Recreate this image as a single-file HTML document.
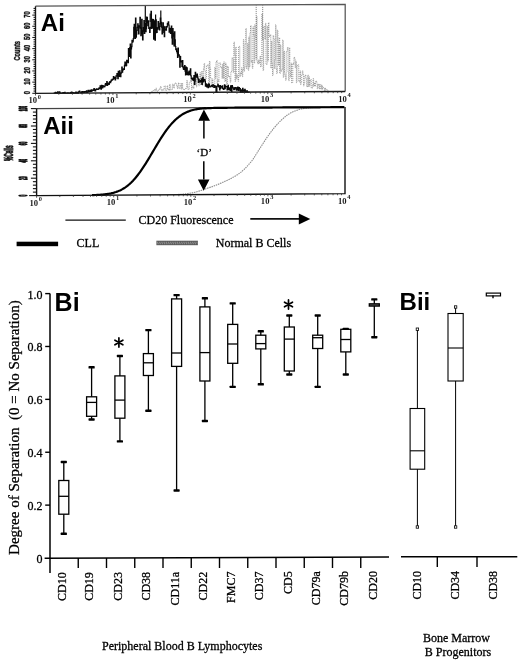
<!DOCTYPE html>
<html><head><meta charset="utf-8"><title>Figure</title>
<style>html,body{margin:0;padding:0;background:#fff;}svg{display:block;}</style>
</head><body>
<svg width="520" height="661" viewBox="0 0 520 661">
<style>.t{font-family:'Liberation Serif',serif;stroke:#000;stroke-width:0.28px;fill:#000;}</style>
<rect width="520" height="661" fill="#fff"/>
<path d="M149.85 92.63V92.63H150.45V92.29H151.04V92.19H151.64V91.47H152.23V91.94H152.83V90.56H153.42V90.04H154.02V89.71H154.62V91.03H155.21V90.78H155.81V88.14H156.4V90.28H157V91.38H157.59V90.92H158.19V89.97H158.78V89.55H159.38V89.59H159.98V87.23H160.57V86.45H161.17V90.16H161.76V90.76H162.36V90.01H162.95V89.44H163.55V90.11H164.14V85.87H164.74V85.93H165.34V90.17H165.93V90.45H166.53V90.02H167.12V85.64H167.72V89.45H168.31V88.9H168.91V90.46H169.5V84.42H170.1V85.89H170.7V90.03H171.29V89.9H171.89V89.38H172.48V84.13H173.08V84.94H173.67V88.17H174.27V84.08H174.86V84.04H175.46V82.93H176.06V83.91H176.65V85.72H177.25V88.58H177.84V84.97H178.44V82.73H179.03V88.39H179.63V88.63H180.23V85.43H180.82V83.56H181.42V89.12H182.01V83.14H182.61V88.91H183.2V89.41H183.8V89.77H184.39V89.52H184.99V88.64H185.59V88.38H186.18V88.65H186.78V80.5H187.37V87.29H187.97V89.44H188.56V89.5H189.16V82.87H189.75V82.48H190.35V80.38H190.95V80.5H191.54V89.32H192.14V86.31H192.73V86.25H193.33V88.49H193.92V77.19H194.52V77.35H195.11V84.55H195.71V78.12H196.31V86.86H196.9V78.37H197.5V75.65H198.09V75.57H198.69V85.8H199.28V82.63H199.88V72.82H200.47V84.64H201.07V75.13H201.67V71.12H202.26V85.18H202.86V81.27H203.45V68.13H204.05V63.4H204.64V70.88H205.24V79.26H205.83V78.27H206.43V66.15H207.03V65.19H207.62V64.66H208.22V67.67H208.81V83.77H209.41V61.2H210V68H210.6V78.35H211.2V85.12H211.79V84.19H212.39V78.93H212.98V85.39H213.58V84.46H214.17V83.99H214.77V67.44H215.36V78.38H215.96V62.16H216.56V60.44H217.15V83.9H217.75V79.55H218.34V81.8H218.94V62.85H219.53V63.09H220.13V63.11H220.72V67.81H221.32V67.15H221.92V78.29H222.51V63.95H223.11V78.53H223.7V61.87H224.3V77.59H224.89V81.55H225.49V62.97H226.08V66.24H226.68V84.55H227.28V66.25H227.87V66.75H228.47V76.88H229.06V75.93H229.66V78.18H230.25V82.18H230.85V72.27H231.44V71.21H232.04V57.75H232.64V58.71H233.23V72.57H233.83V42.04H234.42V54.22H235.02V81.45H235.61V47.08H236.21V78.8H236.8V74.64H237.4V76.88H238V81.18H238.59V46.95H239.19V46.37H239.78V76.62H240.38V72.66H240.97V73.95H241.57V67.69H242.17V76.61H242.76V70.25H243.36V39.5H243.95V71.37H244.55V66.77H245.14V43.58H245.74V28.46H246.33V68.5H246.93V65.14H247.53V43.43H248.12V70.35H248.72V36.85H249.31V67.08H249.91V32.45H250.5V25.59H251.1V62.35H251.69V60.34H252.29V68.32H252.89V26.82H253.48V35.46H254.08V63.14H254.67V24.78H255.27V36.03H255.86V59.28H256.46V16.5H257.05V62.33H257.65V63.81H258.25V60.03H258.84V63.66H259.44V60.63H260.03V56.08H260.63V66.92H261.22V61.47H261.82V13.99H262.41V37.25H263.01V70.52H263.61V26.39H264.2V26.58H264.8V39.18H265.39V23.31H265.99V64.42H266.58V64.51H267.18V26.32H267.77V61.05H268.37V22.66H268.97V35.33H269.56V36.7H270.16V34.58H270.75V68.11H271.35V41.21H271.94V63.72H272.54V75.53H273.14V35.5H273.73V38.38H274.33V68.7H274.92V59.95H275.52V24.74H276.11V68.61H276.71V73.55H277.3V30.14H277.9V41.77H278.5V65.36H279.09V37.77H279.69V73.49H280.28V44.92H280.88V71.25H281.47V70.81H282.07V69.26H282.66V39.97H283.26V77.45H283.86V51.17H284.45V72.98H285.05V75.61H285.64V80.27H286.24V51.72H286.83V50.14H287.43V47.25H288.02V71.99H288.62V80.66H289.22V47.8H289.81V71.41H290.41V77.12H291V63.14H291.6V82.89H292.19V82.44H292.79V63.15H293.38V64.44H293.98V57.2H294.58V58.98H295.17V67.75H295.77V61.23H296.36V82.65H296.96V65.44H297.55V64.8H298.15V64.83H298.74V80.92H299.34V81.98H299.94V70.94H300.53V84.56H301.13V81.58H301.72V74.53H302.32V70.8H302.91V74.52H303.51V85.95H304.11V82.95H304.7V75.68H305.3V74.84H305.89V78.46H306.49V85.31H307.08V87.06H307.68V74.97H308.27V86.48H308.87V76.86H309.47V86.16H310.06V80.35H310.66V79.5H311.25V88.15H311.85V88.16H312.44V85.53H313.04V78.6H313.63V86.52H314.23V82.86H314.83V86.35H315.42V81.68H316.02V81.06H316.61V82.94H317.21V88.7H317.8V84.19H318.4V85.09H318.99V88.97H319.59V84.24H320.19V84.86H320.78V89.04H321.38V84.93H321.97V89.59H322.57V86.51H323.16V87.58H323.76V88.34H324.35V90.66H324.95V88.13H325.55V90.25H326.14V89.54H326.74V89.73H327.33V90.27H327.93V91.26H328.52V91.39H329.12V91.57H329.71V91.59H330.31V91.58H330.91" stroke="#808080" stroke-width="0.75" stroke-dasharray="1.1 0.9" fill="none"/>
<path d="M256.2 40V5.5M262.7 40V5.5" stroke="#7a7a7a" stroke-width="0.9" stroke-dasharray="1.1 0.9" fill="none"/>
<path d="M53.64 93.19V93.19H54.08V93.19H54.52V93.16H54.97V92.74H55.41V92.29H55.85V92.92H56.29V93.18H56.74V93.18H57.18V92.51H57.62V91.96H58.06V92.79H58.51V93.16H58.95V93.16H59.39V91.96H59.83V92.81H60.28V93.15H60.72V92.98H61.16V93.15H61.6V93.15H62.05V93.14H62.49V93.14H62.93V92.56H63.37V92.94H63.82V93.13H64.26V92.64H64.7V92.37H65.14V93.13H65.59V93.04H66.03V93.12H66.47V92.98H66.91V93.12H67.35V92.85H67.8V92.88H68.24V93.04H68.68V93.11H69.12V93.08H69.57V93.1H70.01V93.1H70.45V92.68H70.89V93.09H71.34V92.07H71.78V92.35H72.22V93.09H72.66V92.61H73.11V93.08H73.55V92.74H73.99V92.73H74.43V93.07H74.88V92.88H75.32V92.88H75.76V92.11H76.2V93.06H76.65V92.23H77.09V93.06H77.53V92.88H77.97V93.05H78.42V91.73H78.86V92.27H79.3V91.07H79.74V92.19H80.19V92.04H80.63V92.02H81.07V92.9H81.51V92.51H81.95V91.54H82.4V92.61H82.84V92.15H83.28V92.22H83.72V91.71H84.17V92.28H84.61V92.04H85.05V91.67H85.49V91.67H85.94V92.25H86.38V90.89H86.82V92.36H87.26V92.19H87.71V92.15H88.15V90.36H88.59V91.25H89.03V91.62H89.48V91.64H89.92V90.32H90.36V91.39H90.8V91.47H91.25V89.85H91.69V91.23H92.13V90.41H92.57V90.05H93.02V90.32H93.46V89.88H93.9V88.58H94.34V90.07H94.79V90.62H95.23V91.02H95.67V89.47H96.11V89.48H96.56V88.8H97V89.34H97.44V89.23H97.88V89.33H98.32V89H98.77V88.2H99.21V88.58H99.65V87.95H100.09V85.97H100.54V87.21H100.98V89.13H101.42V85.47H101.86V86.7H102.31V87.86H102.75V85.6H103.19V86.33H103.63V86.79H104.08V86.56H104.52V86.73H104.96V85.21H105.4V83.67H105.85V85.11H106.29V83.88H106.73V81.69H107.17V85.45H107.62V83.21H108.06V83.69H108.5V84.46H108.94V84.15H109.39V82.44H109.83V81.5H110.27V82.64H110.71V81.47H111.16V80.15H111.6V80.49H112.04V79.27H112.48V79.58H112.92V79.2H113.37V76.63H113.81V78.25H114.25V78.72H114.69V77.33H115.14V79.82H115.58V78.42H116.02V75.96H116.46V75.84H116.91V73.66H117.35V76.15H117.79V78.61H118.23V71.38H118.68V72.58H119.12V76.52H119.56V70.9H120V73.22H120.45V76.74H120.89V73.11H121.33V72.74H121.77V67.19H122.22V72.14H122.66V70.11H123.1V69.39H123.54V68.83H123.99V69.39H124.43V65.43H124.87V62.03H125.31V62.27H125.76V65.82H126.2V65.5H126.64V60.43H127.08V61.86H127.53V60.37H127.97V62.73H128.41V48.55H128.85V50.75H129.29V56.37H129.74V47.57H130.18V44.14H130.62V58H131.06V48.81H131.51V46.62H131.95V40.35H132.39V42.19H132.83V41.05H133.28V38.6H133.72V27.42H134.16V24.36H134.6V37.25H135.05V38.46H135.49V18.06H135.93V37.16H136.37V34.25H136.82V30.28H137.26V27.3H137.7V23.83H138.14V27.08H138.59V33.95H139.03V25.8H139.47V27.02H139.91V17.45H140.36V28.19H140.8V35.72H141.24V33.96H141.68V19.46H142.13V30.91H142.57V39.92H143.01V31.04H143.45V27.62H143.89V20.68H144.34V33.44H144.78V23.65H145.22V22.88H145.66V31.57H146.11V28.59H146.55V17.22H146.99V17.5H147.43V22.53H147.88V25.57H148.32V20.88H148.76V28.32H149.2V28.05H149.65V32.5H150.09V27.47H150.53V27.98H150.97V11.37H151.42V28.52H151.86V19.82H152.3V19.29H152.74V27.86H153.19V19.64H153.63V39.15H154.07V25.56H154.51V20.94H154.96V40.22H155.4V32.87H155.84V19.74H156.28V27.52H156.73V32.51H157.17V28.21H157.61V29.22H158.05V21.71H158.5V23.31H158.94V27.66H159.38V29.94H159.82V26.32H160.26V18.17H160.71V24H161.15V22.37H161.59V27.15H162.03V34H162.48V30.71H162.92V22.87H163.36V26.27H163.8V32.35H164.25V36.69H164.69V26.84H165.13V29.66H165.57V29.94H166.02V30.03H166.46V26.7H166.9V26.89H167.34V23.3H167.79V23.8H168.23V21.8H168.67V25.21H169.11V32.2H169.56V30.99H170V28.29H170.44V33.39H170.88V28.99H171.33V26.17H171.77V37.93H172.21V44.12H172.65V28.5H173.1V36.05H173.54V33.48H173.98V45.79H174.42V31.89H174.86V39.73H175.31V46.52H175.75V49.54H176.19V48.78H176.63V51.28H177.08V52.85H177.52V57.5H177.96V48.13H178.4V54.67H178.85V55.15H179.29V56.11H179.73V67.13H180.17V56.49H180.62V60.94H181.06V61.81H181.5V61.45H181.94V66.37H182.39V60.6H182.83V67.19H183.27V68.82H183.71V69.51H184.16V66.8H184.6V65.68H185.04V71.08H185.48V74.84H185.93V67.08H186.37V74.52H186.81V67.84H187.25V72.27H187.7V74.72H188.14V74.94H188.58V72H189.02V71.12H189.47V74.72H189.91V71.71H190.35V68.75H190.79V75.73H191.23V78.72H191.68V78.72H192.12V79.93H192.56V78.09H193V78.57H193.45V80.46H193.89V75.62H194.33V84.36H194.77V81.07H195.22V72.35H195.66V75.2H196.1V76.79H196.54V77.18H196.99V73.99H197.43V77.44H197.87V78.85H198.31V82.41H198.76V79.71H199.2V81.6H199.64V81.76H200.08V82.01H200.53V80.6H200.97V81.53H201.41V78.88H201.85V84.39H202.3V81.86H202.74V77.32H203.18V81.84H203.62V79.39H204.07V79.78H204.51V79.61H204.95V81.15H205.39V86.12H205.83V83.82H206.28V84.26H206.72V87H207.16V84.79H207.6V86.67H208.05V87.73H208.49V83.88H208.93V84.6H209.37V86.13H209.82V86.84H210.26V86.14H210.7V86H211.14V86.18H211.59V85.6H212.03V86.53H212.47V85.01H212.91V84.87H213.36V85.34H213.8V87.49H214.24V87.51H214.68V85.54H215.13V86.88H215.57V86.66H216.01V91.51H216.45V91.98H216.9V86.17H217.34V86.26H217.78V84.3H218.22V85.66H218.67V86.69H219.11V87.15H219.55V89.95H219.99V85.63H220.44V88.5H220.88V86.48H221.32V87.1H221.76V87.02H222.2V85.92H222.65V88.56H223.09V88.42H223.53V89.34H223.97V88.5H224.42V84.77H224.86V88.57H225.3V85.77H225.74V86.49H226.19V86.72H226.63V86.64H227.07V90.01H227.51V87.53H227.96V85.38H228.4V89.58H228.84V88.46H229.28V89.67H229.73V87.92H230.17V90.48H230.61V85.74H231.05V89.34H231.5V91.46H231.94V85.6H232.38V87.11H232.82V87.96H233.27V87.99H233.71V89.6H234.15V89.42H234.59V87.82H235.04V87.53H235.48V87.57H235.92V88.87H236.36V90.1H236.8V89.68H237.25V87.51H237.69V87.01H238.13V90.12H238.57V90.42H239.02V87.56H239.46V88.53H239.9V88.66H240.34V92.11H240.79V90.63H241.23V90.96H241.67V89.88H242.11V92.1H242.56V88.44H243V90.18H243.44V90.14H243.88V92.09H244.33V91.22H244.77V89.27H245.21V92.08H245.65V91.2H246.1V90.75H246.54V92.07H246.98V90.83H247.42V92.07H247.87V92.06H248.31V92.06H248.75V92.06H249.19V92.06H249.64" stroke="#0a0a0a" stroke-width="1.2" fill="none" stroke-linejoin="miter"/>
<path d="M145.3 22V5.6M160.8 24V10.4M150.2 22V13.5M155.6 22V14.5" stroke="#0a0a0a" stroke-width="1.2"/>
<path d="M35.5 6.2L345.2 4.4L345.2 91.5" stroke="#555" stroke-width="1.25" fill="none"/>
<path d="M35.5 6.2L35.5 93.3L345.2 91.5" stroke="#1a1a1a" stroke-width="1.35" fill="none"/>
<path d="M32.3 93.3H35.5" stroke="#111" stroke-width="1.0"/>
<path d="M33.5 91.07H35.5" stroke="#111" stroke-width="1.0"/>
<path d="M33.5 88.83H35.5" stroke="#111" stroke-width="1.0"/>
<path d="M33.5 86.6H35.5" stroke="#111" stroke-width="1.0"/>
<path d="M33.5 84.36H35.5" stroke="#111" stroke-width="1.0"/>
<path d="M32.3 82.13H35.5" stroke="#111" stroke-width="1.0"/>
<path d="M33.5 79.9H35.5" stroke="#111" stroke-width="1.0"/>
<path d="M33.5 77.66H35.5" stroke="#111" stroke-width="1.0"/>
<path d="M33.5 75.43H35.5" stroke="#111" stroke-width="1.0"/>
<path d="M33.5 73.19H35.5" stroke="#111" stroke-width="1.0"/>
<path d="M32.3 70.96H35.5" stroke="#111" stroke-width="1.0"/>
<path d="M33.5 68.73H35.5" stroke="#111" stroke-width="1.0"/>
<path d="M33.5 66.49H35.5" stroke="#111" stroke-width="1.0"/>
<path d="M33.5 64.26H35.5" stroke="#111" stroke-width="1.0"/>
<path d="M33.5 62.02H35.5" stroke="#111" stroke-width="1.0"/>
<path d="M32.3 59.79H35.5" stroke="#111" stroke-width="1.0"/>
<path d="M33.5 57.56H35.5" stroke="#111" stroke-width="1.0"/>
<path d="M33.5 55.32H35.5" stroke="#111" stroke-width="1.0"/>
<path d="M33.5 53.09H35.5" stroke="#111" stroke-width="1.0"/>
<path d="M33.5 50.85H35.5" stroke="#111" stroke-width="1.0"/>
<path d="M32.3 48.62H35.5" stroke="#111" stroke-width="1.0"/>
<path d="M33.5 46.39H35.5" stroke="#111" stroke-width="1.0"/>
<path d="M33.5 44.15H35.5" stroke="#111" stroke-width="1.0"/>
<path d="M33.5 41.92H35.5" stroke="#111" stroke-width="1.0"/>
<path d="M33.5 39.68H35.5" stroke="#111" stroke-width="1.0"/>
<path d="M32.3 37.45H35.5" stroke="#111" stroke-width="1.0"/>
<path d="M33.5 35.22H35.5" stroke="#111" stroke-width="1.0"/>
<path d="M33.5 32.98H35.5" stroke="#111" stroke-width="1.0"/>
<path d="M33.5 30.75H35.5" stroke="#111" stroke-width="1.0"/>
<path d="M33.5 28.51H35.5" stroke="#111" stroke-width="1.0"/>
<path d="M32.3 26.28H35.5" stroke="#111" stroke-width="1.0"/>
<path d="M33.5 24.05H35.5" stroke="#111" stroke-width="1.0"/>
<path d="M33.5 21.81H35.5" stroke="#111" stroke-width="1.0"/>
<path d="M33.5 19.58H35.5" stroke="#111" stroke-width="1.0"/>
<path d="M33.5 17.34H35.5" stroke="#111" stroke-width="1.0"/>
<path d="M32.3 15.11H35.5" stroke="#111" stroke-width="1.0"/>
<path d="M33.5 12.88H35.5" stroke="#111" stroke-width="1.0"/>
<path d="M33.5 10.64H35.5" stroke="#111" stroke-width="1.0"/>
<path d="M33.5 8.41H35.5" stroke="#111" stroke-width="1.0"/>
<text transform="translate(29.7 92.7) rotate(-90) scale(0.62 1)" text-anchor="middle" font-family="'Liberation Sans', sans-serif" font-weight="bold" font-size="9.3" fill="#111" stroke="#111" stroke-width="0.4">0</text>
<text transform="translate(29.7 81.53) rotate(-90) scale(0.62 1)" text-anchor="middle" font-family="'Liberation Sans', sans-serif" font-weight="bold" font-size="9.3" fill="#111" stroke="#111" stroke-width="0.4">10</text>
<text transform="translate(29.7 70.36) rotate(-90) scale(0.62 1)" text-anchor="middle" font-family="'Liberation Sans', sans-serif" font-weight="bold" font-size="9.3" fill="#111" stroke="#111" stroke-width="0.4">20</text>
<text transform="translate(29.7 59.19) rotate(-90) scale(0.62 1)" text-anchor="middle" font-family="'Liberation Sans', sans-serif" font-weight="bold" font-size="9.3" fill="#111" stroke="#111" stroke-width="0.4">30</text>
<text transform="translate(29.7 48.02) rotate(-90) scale(0.62 1)" text-anchor="middle" font-family="'Liberation Sans', sans-serif" font-weight="bold" font-size="9.3" fill="#111" stroke="#111" stroke-width="0.4">40</text>
<text transform="translate(29.7 36.85) rotate(-90) scale(0.62 1)" text-anchor="middle" font-family="'Liberation Sans', sans-serif" font-weight="bold" font-size="9.3" fill="#111" stroke="#111" stroke-width="0.4">50</text>
<text transform="translate(29.7 25.68) rotate(-90) scale(0.62 1)" text-anchor="middle" font-family="'Liberation Sans', sans-serif" font-weight="bold" font-size="9.3" fill="#111" stroke="#111" stroke-width="0.4">60</text>
<text transform="translate(29.7 14.51) rotate(-90) scale(0.62 1)" text-anchor="middle" font-family="'Liberation Sans', sans-serif" font-weight="bold" font-size="9.3" fill="#111" stroke="#111" stroke-width="0.4">70</text>
<text transform="translate(20 50.8) rotate(-90) scale(0.62 1)" text-anchor="middle" font-family="'Liberation Sans', sans-serif" font-weight="bold" font-size="9.2" fill="#111" stroke="#111" stroke-width="0.4">Counts</text>
<text transform="translate(34.7 103.3) scale(1 0.87)" text-anchor="middle" font-family="'Liberation Serif', serif" font-weight="bold" font-size="8.6" fill="#1a1a1a">10<tspan dx="0.7" dy="-5.3" font-size="6.4">0</tspan></text>
<text transform="translate(112.12 102.85) scale(1 0.87)" text-anchor="middle" font-family="'Liberation Serif', serif" font-weight="bold" font-size="8.6" fill="#1a1a1a">10<tspan dx="0.7" dy="-5.3" font-size="6.4">1</tspan></text>
<text transform="translate(189.55 102.4) scale(1 0.87)" text-anchor="middle" font-family="'Liberation Serif', serif" font-weight="bold" font-size="8.6" fill="#1a1a1a">10<tspan dx="0.7" dy="-5.3" font-size="6.4">2</tspan></text>
<text transform="translate(266.97 101.95) scale(1 0.87)" text-anchor="middle" font-family="'Liberation Serif', serif" font-weight="bold" font-size="8.6" fill="#1a1a1a">10<tspan dx="0.7" dy="-5.3" font-size="6.4">3</tspan></text>
<text transform="translate(344.4 101.5) scale(1 0.87)" text-anchor="middle" font-family="'Liberation Serif', serif" font-weight="bold" font-size="8.6" fill="#1a1a1a">10<tspan dx="0.7" dy="-5.3" font-size="6.4">4</tspan></text>
<path d="M35.5 93.3v2.2" stroke="#333" stroke-width="0.8"/>
<path d="M58.81 93.16v1.6" stroke="#333" stroke-width="0.8"/>
<path d="M72.44 93.09v1.6" stroke="#333" stroke-width="0.8"/>
<path d="M82.11 93.03v1.6" stroke="#333" stroke-width="0.8"/>
<path d="M89.62 92.99v1.6" stroke="#333" stroke-width="0.8"/>
<path d="M95.75 92.95v1.6" stroke="#333" stroke-width="0.8"/>
<path d="M100.93 92.92v1.6" stroke="#333" stroke-width="0.8"/>
<path d="M105.42 92.89v1.6" stroke="#333" stroke-width="0.8"/>
<path d="M109.38 92.87v1.6" stroke="#333" stroke-width="0.8"/>
<path d="M112.92 92.85v2.2" stroke="#333" stroke-width="0.8"/>
<path d="M136.23 92.71v1.6" stroke="#333" stroke-width="0.8"/>
<path d="M149.87 92.64v1.6" stroke="#333" stroke-width="0.8"/>
<path d="M159.54 92.58v1.6" stroke="#333" stroke-width="0.8"/>
<path d="M167.04 92.54v1.6" stroke="#333" stroke-width="0.8"/>
<path d="M173.17 92.5v1.6" stroke="#333" stroke-width="0.8"/>
<path d="M178.36 92.47v1.6" stroke="#333" stroke-width="0.8"/>
<path d="M182.85 92.44v1.6" stroke="#333" stroke-width="0.8"/>
<path d="M186.81 92.42v1.6" stroke="#333" stroke-width="0.8"/>
<path d="M190.35 92.4v2.2" stroke="#333" stroke-width="0.8"/>
<path d="M213.66 92.26v1.6" stroke="#333" stroke-width="0.8"/>
<path d="M227.29 92.19v1.6" stroke="#333" stroke-width="0.8"/>
<path d="M236.96 92.13v1.6" stroke="#333" stroke-width="0.8"/>
<path d="M244.47 92.09v1.6" stroke="#333" stroke-width="0.8"/>
<path d="M250.6 92.05v1.6" stroke="#333" stroke-width="0.8"/>
<path d="M255.78 92.02v1.6" stroke="#333" stroke-width="0.8"/>
<path d="M260.27 91.99v1.6" stroke="#333" stroke-width="0.8"/>
<path d="M264.23 91.97v1.6" stroke="#333" stroke-width="0.8"/>
<path d="M267.77 91.95v2.2" stroke="#333" stroke-width="0.8"/>
<path d="M291.08 91.81v1.6" stroke="#333" stroke-width="0.8"/>
<path d="M304.72 91.74v1.6" stroke="#333" stroke-width="0.8"/>
<path d="M314.39 91.68v1.6" stroke="#333" stroke-width="0.8"/>
<path d="M321.89 91.64v1.6" stroke="#333" stroke-width="0.8"/>
<path d="M328.02 91.6v1.6" stroke="#333" stroke-width="0.8"/>
<path d="M333.21 91.57v1.6" stroke="#333" stroke-width="0.8"/>
<path d="M337.7 91.54v1.6" stroke="#333" stroke-width="0.8"/>
<path d="M341.66 91.52v1.6" stroke="#333" stroke-width="0.8"/>
<text x="40.8" y="31" font-family="'Liberation Sans', sans-serif" font-weight="bold" font-size="24" fill="#000">Ai</text>
<path d="M36.6 108.6L345.0 107.0" stroke="#444" stroke-width="1.2" fill="none"/>
<path d="M178 194.44 179 194.38 180 194.32 181 194.26 182 194.18 183 194.09 184 193.99 185 193.88 186 193.75 187 193.62 188 193.48 189 193.34 190 193.18 191 193.02 192 192.86 193 192.67 194 192.46 195 192.23 196 191.98 197 191.7 198 191.41 199 191.11 200 190.79 201 190.46 202 190.13 203 189.79 204 189.44 205 189.1 206 188.76 207 188.42 208 188.08 209 187.74 210 187.39 211 187.04 212 186.68 213 186.32 214 185.94 215 185.57 216 185.18 217 184.78 218 184.38 219 183.97 220 183.55 221 183.13 222 182.69 223 182.25 224 181.79 225 181.34 226 180.88 227 180.41 228 179.93 229 179.44 230 178.94 231 178.43 232 177.9 233 177.35 234 176.79 235 176.2 236 175.59 237 174.96 238 174.3 239 173.61 240 172.89 241 172.11 242 171.28 243 170.4 244 169.48 245 168.51 246 167.5 247 166.44 248 165.36 249 164.23 250 163.07 251 161.88 252 160.59 253 159.2 254 157.71 255 156.16 256 154.56 257 152.94 258 151.33 259 149.74 260 148.19 261 146.67 262 145.11 263 143.55 264 141.98 265 140.42 266 138.89 267 137.39 268 135.94 269 134.54 270 133.19 271 131.86 272 130.55 273 129.27 274 128.01 275 126.8 276 125.63 277 124.51 278 123.46 279 122.45 280 121.46 281 120.48 282 119.52 283 118.59 284 117.69 285 116.83 286 116.01 287 115.25 288 114.55 289 113.91 290 113.35 291 112.84 292 112.34 293 111.86 294 111.41 295 110.98 296 110.58 297 110.21 298 109.87 299 109.56 300 109.29 301 109.06 302 108.86 303 108.69 304 108.52 305 108.36 306 108.21 307 108.08 308 107.96 309 107.85 310 107.75 311 107.67 312 107.6 313 107.55 314 107.49 315 107.44 316 107.38 317 107.33 318 107.29 319 107.25 320 107.21 321 107.18 322 107.15 323 107.13 324 107.11 325 107.1" stroke="#8c8c8c" stroke-width="1.1" stroke-dasharray="1.5 0.8" fill="none"/>
<path d="M92 195.11 93 195.09 94 195.05 95 195.02 96 194.98 97 194.93 98 194.88 99 194.83 100 194.77 101 194.7 102 194.62 103 194.53 104 194.43 105 194.32 106 194.2 107 194.06 108 193.91 109 193.75 110 193.56 111 193.36 112 193.13 113 192.89 114 192.62 115 192.32 116 192 117 191.64 118 191.26 119 190.84 120 190.39 121 189.9 122 189.38 123 188.81 124 188.2 125 187.56 126 186.86 127 186.12 128 185.34 129 184.5 130 183.62 131 182.69 132 181.7 133 180.67 134 179.59 135 178.46 136 177.28 137 176.05 138 174.77 139 173.45 140 172.08 141 170.67 142 169.22 143 167.74 144 166.21 145 164.65 146 163.07 147 161.45 148 159.82 149 158.16 150 156.49 151 154.81 152 153.12 153 151.42 154 149.73 155 148.03 156 146.35 157 144.68 158 143.02 159 141.39 160 139.78 161 138.19 162 136.63 163 135.11 164 133.62 165 132.17 166 130.76 167 129.4 168 128.08 169 126.8 170 125.58 171 124.4 172 123.27 173 122.19 174 121.16 175 120.18 176 119.25 177 118.36 178 117.53 179 116.75 180 116.01 181 115.32 182 114.67 183 114.06 184 113.5 185 112.97 186 112.49 187 112.04 188 111.62 189 111.24 190 110.89 191 110.57 192 110.27 193 110 194 109.76 195 109.54 196 109.33 197 109.15 198 108.98 199 108.84 200 108.7 201 108.58 202 108.47 203 108.38 204 108.29 205 108.21 206 108.29 207 108.23 208 108.18 209 108.13 210 108.09 211 108.05 212 108.01 213 107.98 214 107.96 215 107.93 216 107.91 217 107.89 218 107.87 219 107.86 220 107.85 221 107.83 222 107.82 223 107.81 224 107.8 225 107.79 226 107.78 227 107.78 228 107.77 229 107.76 230 107.75 231 107.75 232 107.74 233 107.74 234 107.73 235 107.72 236 107.72 237 107.71 238 107.71 239 107.7 240 107.7 241 107.69 242 107.68 243 107.68 244 107.67 245 107.67 246 107.66 247 107.66 248 107.65 249 107.65 250 107.64 251 107.64 252 107.63 253 107.63 254 107.62 255 107.62 256 107.61 257 107.61 258 107.6 259 107.6 260 107.59 261 107.59 262 107.58 263 107.58 264 107.57 265 107.57 266 107.56 267 107.55 268 107.55 269 107.54 270 107.54 271 107.53 272 107.53 273 107.52 274 107.52 275 107.51 276 107.51 277 107.5 278 107.5 279 107.49 280 107.49 281 107.48 282 107.48 283 107.47 284 107.47 285 107.46 286 107.46 287 107.45 288 107.45 289 107.44 290 107.44 291 107.43 292 107.42 293 107.42 294 107.41 295 107.41 296 107.4 297 107.4 298 107.39 299 107.39 300 107.38 301 107.38 302 107.37 303 107.37 304 107.36 305 107.36 306 107.35 307 107.35 308 107.34 309 107.34 310 107.33 311 107.33 312 107.32 313 107.32 314 107.31 315 107.31 316 107.3 317 107.3 318 107.29 319 107.28 320 107.28 321 107.27 322 107.27 323 107.26 324 107.26 325 107.25 326 107.25 327 107.24 328 107.24 329 107.23 330 107.23 331 107.22 332 107.22 333 107.21 334 107.21 335 107.2 336 107.2 337 107.19 338 107.19 339 107.18 340 107.18 341 107.17 342 107.17 343 107.16 344 107.16" stroke="#000" stroke-width="2.2" fill="none" stroke-linejoin="round"/>
<path d="M345.0 107.0L345.0 193.6L36.6 195.6L36.6 108.6" stroke="#111" stroke-width="1.4" fill="none"/>
<path d="M29.1 195.6H36.6" stroke="#111" stroke-width="1.1"/>
<path d="M32.9 192.12H36.6" stroke="#111" stroke-width="1.1"/>
<path d="M32.9 188.64H36.6" stroke="#111" stroke-width="1.1"/>
<path d="M32.9 185.16H36.6" stroke="#111" stroke-width="1.1"/>
<path d="M32.9 181.68H36.6" stroke="#111" stroke-width="1.1"/>
<path d="M30.9 178.2H36.6" stroke="#111" stroke-width="1.1"/>
<path d="M32.9 174.72H36.6" stroke="#111" stroke-width="1.1"/>
<path d="M32.9 171.24H36.6" stroke="#111" stroke-width="1.1"/>
<path d="M32.9 167.76H36.6" stroke="#111" stroke-width="1.1"/>
<path d="M32.9 164.28H36.6" stroke="#111" stroke-width="1.1"/>
<path d="M30.9 160.8H36.6" stroke="#111" stroke-width="1.1"/>
<path d="M32.9 157.32H36.6" stroke="#111" stroke-width="1.1"/>
<path d="M32.9 153.84H36.6" stroke="#111" stroke-width="1.1"/>
<path d="M32.9 150.36H36.6" stroke="#111" stroke-width="1.1"/>
<path d="M32.9 146.88H36.6" stroke="#111" stroke-width="1.1"/>
<path d="M30.9 143.4H36.6" stroke="#111" stroke-width="1.1"/>
<path d="M32.9 139.92H36.6" stroke="#111" stroke-width="1.1"/>
<path d="M32.9 136.44H36.6" stroke="#111" stroke-width="1.1"/>
<path d="M32.9 132.96H36.6" stroke="#111" stroke-width="1.1"/>
<path d="M32.9 129.48H36.6" stroke="#111" stroke-width="1.1"/>
<path d="M30.9 126H36.6" stroke="#111" stroke-width="1.1"/>
<path d="M32.9 122.52H36.6" stroke="#111" stroke-width="1.1"/>
<path d="M32.9 119.04H36.6" stroke="#111" stroke-width="1.1"/>
<path d="M32.9 115.56H36.6" stroke="#111" stroke-width="1.1"/>
<path d="M32.9 112.08H36.6" stroke="#111" stroke-width="1.1"/>
<path d="M30.9 108.6H36.6" stroke="#111" stroke-width="1.1"/>
<text transform="translate(26.9 195.6) rotate(-90) scale(0.28 1)" text-anchor="middle" font-family="'Liberation Sans', sans-serif" font-weight="bold" font-size="11.5" fill="#111" stroke="#111" stroke-width="1.4">0</text>
<text transform="translate(26.9 178.2) rotate(-90) scale(0.28 1)" text-anchor="middle" font-family="'Liberation Sans', sans-serif" font-weight="bold" font-size="11.5" fill="#111" stroke="#111" stroke-width="1.4">20</text>
<text transform="translate(26.9 160.8) rotate(-90) scale(0.28 1)" text-anchor="middle" font-family="'Liberation Sans', sans-serif" font-weight="bold" font-size="11.5" fill="#111" stroke="#111" stroke-width="1.4">40</text>
<text transform="translate(26.9 143.4) rotate(-90) scale(0.28 1)" text-anchor="middle" font-family="'Liberation Sans', sans-serif" font-weight="bold" font-size="11.5" fill="#111" stroke="#111" stroke-width="1.4">60</text>
<text transform="translate(26.9 126) rotate(-90) scale(0.28 1)" text-anchor="middle" font-family="'Liberation Sans', sans-serif" font-weight="bold" font-size="11.5" fill="#111" stroke="#111" stroke-width="1.4">80</text>
<text transform="translate(26.9 108.6) rotate(-90) scale(0.28 1)" text-anchor="middle" font-family="'Liberation Sans', sans-serif" font-weight="bold" font-size="11.5" fill="#111" stroke="#111" stroke-width="1.4">100</text>
<text transform="translate(13.4 153.2) rotate(-90) scale(0.38 1)" text-anchor="middle" font-family="'Liberation Sans', sans-serif" font-weight="bold" font-size="12.5" fill="#111" stroke="#111" stroke-width="0.9">%Cells</text>
<text transform="translate(35.8 205.5) scale(1 0.87)" text-anchor="middle" font-family="'Liberation Serif', serif" font-weight="bold" font-size="8.6" fill="#1a1a1a">10<tspan dx="0.7" dy="-5.3" font-size="6.4">0</tspan></text>
<text transform="translate(112.9 205) scale(1 0.87)" text-anchor="middle" font-family="'Liberation Serif', serif" font-weight="bold" font-size="8.6" fill="#1a1a1a">10<tspan dx="0.7" dy="-5.3" font-size="6.4">1</tspan></text>
<text transform="translate(190 204.5) scale(1 0.87)" text-anchor="middle" font-family="'Liberation Serif', serif" font-weight="bold" font-size="8.6" fill="#1a1a1a">10<tspan dx="0.7" dy="-5.3" font-size="6.4">2</tspan></text>
<text transform="translate(267.1 204) scale(1 0.87)" text-anchor="middle" font-family="'Liberation Serif', serif" font-weight="bold" font-size="8.6" fill="#1a1a1a">10<tspan dx="0.7" dy="-5.3" font-size="6.4">3</tspan></text>
<text transform="translate(344.2 203.5) scale(1 0.87)" text-anchor="middle" font-family="'Liberation Serif', serif" font-weight="bold" font-size="8.6" fill="#1a1a1a">10<tspan dx="0.7" dy="-5.3" font-size="6.4">4</tspan></text>
<path d="M36.6 195.6v2.2" stroke="#333" stroke-width="0.8"/>
<path d="M59.81 195.45v1.6" stroke="#333" stroke-width="0.8"/>
<path d="M73.39 195.36v1.6" stroke="#333" stroke-width="0.8"/>
<path d="M83.02 195.3v1.6" stroke="#333" stroke-width="0.8"/>
<path d="M90.49 195.25v1.6" stroke="#333" stroke-width="0.8"/>
<path d="M96.6 195.21v1.6" stroke="#333" stroke-width="0.8"/>
<path d="M101.76 195.18v1.6" stroke="#333" stroke-width="0.8"/>
<path d="M106.23 195.15v1.6" stroke="#333" stroke-width="0.8"/>
<path d="M110.17 195.12v1.6" stroke="#333" stroke-width="0.8"/>
<path d="M113.7 195.1v2.2" stroke="#333" stroke-width="0.8"/>
<path d="M136.91 194.95v1.6" stroke="#333" stroke-width="0.8"/>
<path d="M150.49 194.86v1.6" stroke="#333" stroke-width="0.8"/>
<path d="M160.12 194.8v1.6" stroke="#333" stroke-width="0.8"/>
<path d="M167.59 194.75v1.6" stroke="#333" stroke-width="0.8"/>
<path d="M173.7 194.71v1.6" stroke="#333" stroke-width="0.8"/>
<path d="M178.86 194.68v1.6" stroke="#333" stroke-width="0.8"/>
<path d="M183.33 194.65v1.6" stroke="#333" stroke-width="0.8"/>
<path d="M187.27 194.62v1.6" stroke="#333" stroke-width="0.8"/>
<path d="M190.8 194.6v2.2" stroke="#333" stroke-width="0.8"/>
<path d="M214.01 194.45v1.6" stroke="#333" stroke-width="0.8"/>
<path d="M227.59 194.36v1.6" stroke="#333" stroke-width="0.8"/>
<path d="M237.22 194.3v1.6" stroke="#333" stroke-width="0.8"/>
<path d="M244.69 194.25v1.6" stroke="#333" stroke-width="0.8"/>
<path d="M250.8 194.21v1.6" stroke="#333" stroke-width="0.8"/>
<path d="M255.96 194.18v1.6" stroke="#333" stroke-width="0.8"/>
<path d="M260.43 194.15v1.6" stroke="#333" stroke-width="0.8"/>
<path d="M264.37 194.12v1.6" stroke="#333" stroke-width="0.8"/>
<path d="M267.9 194.1v2.2" stroke="#333" stroke-width="0.8"/>
<path d="M291.11 193.95v1.6" stroke="#333" stroke-width="0.8"/>
<path d="M304.69 193.86v1.6" stroke="#333" stroke-width="0.8"/>
<path d="M314.32 193.8v1.6" stroke="#333" stroke-width="0.8"/>
<path d="M321.79 193.75v1.6" stroke="#333" stroke-width="0.8"/>
<path d="M327.9 193.71v1.6" stroke="#333" stroke-width="0.8"/>
<path d="M333.06 193.68v1.6" stroke="#333" stroke-width="0.8"/>
<path d="M337.53 193.65v1.6" stroke="#333" stroke-width="0.8"/>
<path d="M341.47 193.62v1.6" stroke="#333" stroke-width="0.8"/>
<text x="43.2" y="133.7" font-family="'Liberation Sans', sans-serif" font-weight="bold" font-size="24" fill="#000">Aii</text>
<path d="M203.9 120.5V138.6M203.8 161.3V179.6" stroke="#000" stroke-width="1.5"/>
<path d="M203.9 109.4L210 120.8L198.3 120.8Z M203.7 190.8L209.5 179.4L197.9 179.4Z" fill="#000"/>
<text x="204.2" y="156.3" text-anchor="middle" class="t" font-size="11">‘D’</text>
<path d="M65.4 220.1H125.8" stroke="#111" stroke-width="1.4"/>
<path d="M250.3 218.9H300" stroke="#111" stroke-width="1.6"/>
<path d="M310.3 218.9L298.8 213.5L298.8 224.4Z" fill="#000"/>
<text x="138.5" y="224" class="t" font-size="12">CD20 Fluorescence</text>
<rect x="16.6" y="241.7" width="41.5" height="4.5" fill="#000"/>
<text x="76.6" y="247.4" class="t" font-size="12">CLL</text>
<rect x="156.4" y="240.7" width="41.5" height="4.5" fill="#5a5a5a"/>
<path d="M156.9 242.3H197.4M157.4 243.7H197.4" stroke="#b0b0b0" stroke-width="0.7" stroke-dasharray="1.3 0.9"/>
<text x="215.8" y="246.5" class="t" font-size="12">Normal B Cells</text>
<path d="M50 293.6V573" stroke="#000" stroke-width="1.5"/>
<path d="M44.6 558.2L389 557" stroke="#000" stroke-width="1.5"/>
<path d="M45.2 505.12H50" stroke="#000" stroke-width="1.4"/>
<path d="M45.2 452.24H50" stroke="#000" stroke-width="1.4"/>
<path d="M45.2 399.36H50" stroke="#000" stroke-width="1.4"/>
<path d="M45.2 346.48H50" stroke="#000" stroke-width="1.4"/>
<path d="M45.2 293.6H50" stroke="#000" stroke-width="1.4"/>
<path d="M78.25 558.08V568" stroke="#000" stroke-width="1.4"/>
<path d="M106.5 557.98V568" stroke="#000" stroke-width="1.4"/>
<path d="M134.75 557.89V568" stroke="#000" stroke-width="1.4"/>
<path d="M163 557.79V568" stroke="#000" stroke-width="1.4"/>
<path d="M191.25 557.69V568" stroke="#000" stroke-width="1.4"/>
<path d="M219.5 557.59V568" stroke="#000" stroke-width="1.4"/>
<path d="M247.75 557.49V568" stroke="#000" stroke-width="1.4"/>
<path d="M276 557.39V568" stroke="#000" stroke-width="1.4"/>
<path d="M304.25 557.3V568" stroke="#000" stroke-width="1.4"/>
<path d="M332.5 557.2V568" stroke="#000" stroke-width="1.4"/>
<path d="M360.75 557.1V568" stroke="#000" stroke-width="1.4"/>
<text x="42.6" y="298.5" text-anchor="end" class="t" font-size="12">1.0</text>
<text x="42.6" y="351.38" text-anchor="end" class="t" font-size="12">0.8</text>
<text x="42.6" y="404.26" text-anchor="end" class="t" font-size="12">0.6</text>
<text x="42.6" y="457.14" text-anchor="end" class="t" font-size="12">0.4</text>
<text x="42.6" y="510.02" text-anchor="end" class="t" font-size="12">0.2</text>
<text x="42.6" y="562.9" text-anchor="end" class="t" font-size="12">0</text>
<text transform="translate(19.4 427.6) rotate(-90)" text-anchor="middle" class="t" font-size="15">Degree of Separation&#160; (0 = No Separation)</text>
<text x="54.6" y="310.9" font-family="'Liberation Sans', sans-serif" font-weight="bold" font-size="25" fill="#000">Bi</text>
<text x="399.6" y="309.5" font-family="'Liberation Sans', sans-serif" font-weight="bold" font-size="24" fill="#000">Bii</text>
<path d="M401 556.8H517.3" stroke="#000" stroke-width="1.4"/>
<path d="M437.3 556.8V567M477 556.8V567" stroke="#000" stroke-width="1.4"/>
<text transform="translate(65.6 572.3) rotate(-90)" text-anchor="end" class="t" font-size="12">CD10</text>
<text transform="translate(93.47 572.18) rotate(-90)" text-anchor="end" class="t" font-size="12">CD19</text>
<text transform="translate(121.84 572.07) rotate(-90)" text-anchor="end" class="t" font-size="12">CD23</text>
<text transform="translate(150.42 571.95) rotate(-90)" text-anchor="end" class="t" font-size="12">CD38</text>
<text transform="translate(178.69 571.83) rotate(-90)" text-anchor="end" class="t" font-size="12">CD11a</text>
<text transform="translate(207.06 571.71) rotate(-90)" text-anchor="end" class="t" font-size="12">CD22</text>
<text transform="translate(234.94 571.59) rotate(-90)" text-anchor="end" class="t" font-size="12">FMC7</text>
<text transform="translate(263.11 571.47) rotate(-90)" text-anchor="end" class="t" font-size="12">CD37</text>
<text transform="translate(291.68 571.36) rotate(-90)" text-anchor="end" class="t" font-size="12">CD5</text>
<text transform="translate(320.15 571.24) rotate(-90)" text-anchor="end" class="t" font-size="12">CD79a</text>
<text transform="translate(348.33 571.12) rotate(-90)" text-anchor="end" class="t" font-size="12">CD79b</text>
<text transform="translate(376.9 571) rotate(-90)" text-anchor="end" class="t" font-size="12">CD20</text>
<text transform="translate(420.9 570.9) rotate(-90)" text-anchor="end" class="t" font-size="12">CD10</text>
<text transform="translate(459.1 570.9) rotate(-90)" text-anchor="end" class="t" font-size="12">CD34</text>
<text transform="translate(497 570.9) rotate(-90)" text-anchor="end" class="t" font-size="12">CD38</text>
<text x="102" y="649.6" class="t" font-size="12">Peripheral Blood B Lymphocytes</text>
<text x="456.4" y="642.2" text-anchor="middle" class="t" font-size="12">Bone Marrow</text>
<text x="458" y="656" text-anchor="middle" class="t" font-size="12">B Progenitors</text>
<path d="M63.8 462V480.5M63.8 514.2V533.8" stroke="#000" stroke-width="1.3"/>
<rect x="58.8" y="480.5" width="10" height="33.7" stroke="#000" stroke-width="1.3" fill="none"/>
<path d="M58.8 496.3H68.8" stroke="#000" stroke-width="1.3"/>
<rect x="60.7" y="460.8" width="6.2" height="2.4" rx="0.6" fill="#000"/>
<rect x="60.7" y="532.6" width="6.2" height="2.4" rx="0.6" fill="#000"/>
<path d="M91.6 367.3V396.8M91.6 416.3V419.5" stroke="#000" stroke-width="1.3"/>
<rect x="86.6" y="396.8" width="10" height="19.5" stroke="#000" stroke-width="1.3" fill="none"/>
<path d="M86.6 402.4H96.6" stroke="#000" stroke-width="1.3"/>
<rect x="88.5" y="366.1" width="6.2" height="2.4" rx="0.6" fill="#000"/>
<rect x="88.5" y="418.3" width="6.2" height="2.4" rx="0.6" fill="#000"/>
<path d="M119.9 356V375.9M119.9 418.2V441.4" stroke="#000" stroke-width="1.3"/>
<rect x="114.9" y="375.9" width="10" height="42.3" stroke="#000" stroke-width="1.3" fill="none"/>
<path d="M114.9 400.1H124.9" stroke="#000" stroke-width="1.3"/>
<rect x="116.8" y="354.8" width="6.2" height="2.4" rx="0.6" fill="#000"/>
<rect x="116.8" y="440.2" width="6.2" height="2.4" rx="0.6" fill="#000"/>
<path d="M148.4 330.1V353.6M148.4 375.5V410.8" stroke="#000" stroke-width="1.3"/>
<rect x="143.4" y="353.6" width="10" height="21.9" stroke="#000" stroke-width="1.3" fill="none"/>
<path d="M143.4 362.8H153.4" stroke="#000" stroke-width="1.3"/>
<rect x="145.3" y="328.9" width="6.2" height="2.4" rx="0.6" fill="#000"/>
<rect x="145.3" y="409.6" width="6.2" height="2.4" rx="0.6" fill="#000"/>
<path d="M176.6 295.1V298.9M176.6 366.4V490.5" stroke="#000" stroke-width="1.3"/>
<rect x="171.6" y="298.9" width="10" height="67.5" stroke="#000" stroke-width="1.3" fill="none"/>
<path d="M171.6 353H181.6" stroke="#000" stroke-width="1.3"/>
<rect x="173.5" y="293.9" width="6.2" height="2.4" rx="0.6" fill="#000"/>
<rect x="173.5" y="489.3" width="6.2" height="2.4" rx="0.6" fill="#000"/>
<path d="M204.9 298.3V306.9M204.9 381V421" stroke="#000" stroke-width="1.3"/>
<rect x="199.9" y="306.9" width="10" height="74.1" stroke="#000" stroke-width="1.3" fill="none"/>
<path d="M199.9 352.6H209.9" stroke="#000" stroke-width="1.3"/>
<rect x="201.8" y="297.1" width="6.2" height="2.4" rx="0.6" fill="#000"/>
<rect x="201.8" y="419.8" width="6.2" height="2.4" rx="0.6" fill="#000"/>
<path d="M232.7 303.4V324.4M232.7 363.3V386.9" stroke="#000" stroke-width="1.3"/>
<rect x="227.7" y="324.4" width="10" height="38.9" stroke="#000" stroke-width="1.3" fill="none"/>
<path d="M227.7 344H237.7" stroke="#000" stroke-width="1.3"/>
<rect x="229.6" y="302.2" width="6.2" height="2.4" rx="0.6" fill="#000"/>
<rect x="229.6" y="385.7" width="6.2" height="2.4" rx="0.6" fill="#000"/>
<path d="M260.8 331.3V335.2M260.8 348.9V384.3" stroke="#000" stroke-width="1.3"/>
<rect x="255.8" y="335.2" width="10" height="13.7" stroke="#000" stroke-width="1.3" fill="none"/>
<path d="M255.8 343.6H265.8" stroke="#000" stroke-width="1.3"/>
<rect x="257.7" y="330.1" width="6.2" height="2.4" rx="0.6" fill="#000"/>
<rect x="257.7" y="383.1" width="6.2" height="2.4" rx="0.6" fill="#000"/>
<path d="M289.3 315.5V327M289.3 371V374.5" stroke="#000" stroke-width="1.3"/>
<rect x="284.3" y="327" width="10" height="44" stroke="#000" stroke-width="1.3" fill="none"/>
<path d="M284.3 339.1H294.3" stroke="#000" stroke-width="1.3"/>
<rect x="286.2" y="314.3" width="6.2" height="2.4" rx="0.6" fill="#000"/>
<rect x="286.2" y="373.3" width="6.2" height="2.4" rx="0.6" fill="#000"/>
<path d="M317.7 315.5V335.2M317.7 348.5V386.9" stroke="#000" stroke-width="1.3"/>
<rect x="312.7" y="335.2" width="10" height="13.3" stroke="#000" stroke-width="1.3" fill="none"/>
<path d="M312.7 337.7H322.7" stroke="#000" stroke-width="1.3"/>
<rect x="314.6" y="314.3" width="6.2" height="2.4" rx="0.6" fill="#000"/>
<rect x="314.6" y="385.7" width="6.2" height="2.4" rx="0.6" fill="#000"/>
<path d="M345.8 328.9V329.3M345.8 351.9V374.5" stroke="#000" stroke-width="1.3"/>
<rect x="340.8" y="329.3" width="10" height="22.6" stroke="#000" stroke-width="1.3" fill="none"/>
<path d="M340.8 339.5H350.8" stroke="#000" stroke-width="1.3"/>
<rect x="342.7" y="327.7" width="6.2" height="2.4" rx="0.6" fill="#000"/>
<rect x="342.7" y="373.3" width="6.2" height="2.4" rx="0.6" fill="#000"/>
<path d="M374.3 299.4V303.8M374.3 306.1V337.2" stroke="#000" stroke-width="1.3"/>
<rect x="369.3" y="303.8" width="10" height="2.3" stroke="#000" stroke-width="1.3" fill="none"/>
<path d="M369.3 305H379.3" stroke="#000" stroke-width="1.3"/>
<rect x="371.2" y="298.2" width="6.2" height="2.4" rx="0.6" fill="#000"/>
<rect x="371.2" y="336" width="6.2" height="2.4" rx="0.6" fill="#000"/>
<path d="M118.9 337.9L118.9 347.1M114.92 340.2L122.88 344.8M114.92 344.8L122.88 340.2" stroke="#000" stroke-width="1.7" stroke-linecap="round"/>
<path d="M288.5 299.9L288.5 309.1M284.52 302.2L292.48 306.8M284.52 306.8L292.48 302.2" stroke="#000" stroke-width="1.7" stroke-linecap="round"/>
<path d="M417.4 329.2V408.5M417.4 469.2V527" stroke="#000" stroke-width="1.0"/>
<rect x="410.1" y="408.5" width="14.6" height="60.7" stroke="#000" stroke-width="1.1" fill="none"/>
<path d="M410.1 450.8H424.7" stroke="#000" stroke-width="1.1"/>
<rect x="416.2" y="328" width="2.4" height="2.4" stroke="#000" stroke-width="0.8" fill="#fff"/>
<rect x="416.2" y="525.8" width="2.4" height="2.4" stroke="#000" stroke-width="0.8" fill="#fff"/>
<path d="M455.6 307V313.5M455.6 381V527" stroke="#000" stroke-width="1.0"/>
<rect x="448" y="313.5" width="15.2" height="67.5" stroke="#000" stroke-width="1.1" fill="none"/>
<path d="M448 348H463.2" stroke="#000" stroke-width="1.1"/>
<rect x="454.4" y="305.8" width="2.4" height="2.4" stroke="#000" stroke-width="0.8" fill="#fff"/>
<rect x="454.4" y="525.8" width="2.4" height="2.4" stroke="#000" stroke-width="0.8" fill="#fff"/>
<rect x="486.3" y="293.1" width="14.2" height="2.8" stroke="#000" stroke-width="1.2" fill="#fff"/>
<path d="M493 295.6V298.2" stroke="#000" stroke-width="1.4"/>
</svg>
</body></html>
